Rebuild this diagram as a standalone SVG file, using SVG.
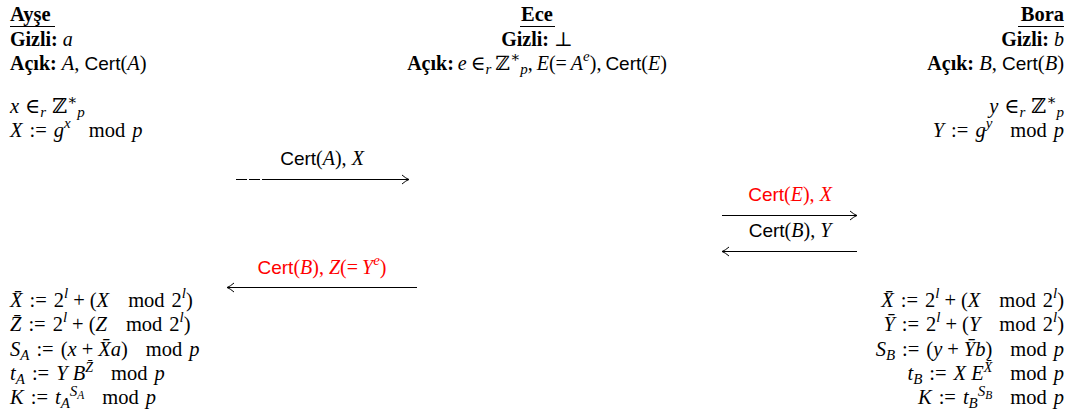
<svg xmlns="http://www.w3.org/2000/svg" width="1074" height="418" viewBox="0 0 1074 418">
<style>
text{font-family:"Liberation Serif","DejaVu Serif",serif;font-size:20.5px;fill:#000}
.b{font-weight:bold}
.i{font-style:italic}
.s{font-family:"Liberation Sans","DejaVu Sans",sans-serif;font-size:19px;font-style:normal}
.sc{font-size:15px}
.sb{font-size:14px}
.ss{font-size:11.5px}
.e{text-anchor:end}
.m{text-anchor:middle}
.n{font-size:20px}
.red{fill:#ff0000}
.red tspan{fill:#ff0000}
.ul{stroke:#000;stroke-width:1.2}
.ar{stroke:#000;stroke-width:1;fill:none}
</style>
<defs>
<marker id="ah" markerUnits="userSpaceOnUse" markerWidth="14" markerHeight="14" refX="11" refY="7" orient="auto">
<path d="M4,2.5 Q8,6 11,7 Q8,8 4,11.5" fill="none" stroke="#000" stroke-width="1"/>
</marker>
</defs>
<g id="ayse">
<text class="b" x="10" y="21">Ayşe</text>
<line class="ul" x1="10" y1="26.5" x2="55" y2="26.5"/>
<text class="n" x="10" y="46"><tspan class="b">Gizli:</tspan> <tspan class="i">a</tspan></text>
<text x="10" y="70"><tspan class="b n">Açık:</tspan> <tspan class="i">A</tspan>, <tspan class="s">Cert</tspan>(<tspan class="i">A</tspan>)</text>
<text x="10" y="113"><tspan class="i">x</tspan><tspan dx="6">∈</tspan><tspan class="sc i" dy="4">r</tspan><tspan dy="-4" dx="6">ℤ</tspan><tspan class="sc" dy="-8">∗</tspan><tspan class="sc i" dy="12">p</tspan></text>
<text x="10" y="137"><tspan class="i">X</tspan><tspan dx="7">:=</tspan><tspan class="i" dx="7">g</tspan><tspan class="sc i" dy="-9">x</tspan><tspan dy="9" dx="18">mod</tspan><tspan class="i" dx="7">p</tspan></text>
<text x="10" y="307"><tspan class="i">X̄</tspan><tspan dx="7">:=</tspan><tspan dx="7">2</tspan><tspan class="sc i" dy="-9">l</tspan><tspan dy="9" dx="5">+</tspan><tspan dx="5">(</tspan><tspan class="i">X</tspan><tspan dx="19">mod</tspan><tspan dx="7">2</tspan><tspan class="sc i" dy="-9">l</tspan><tspan dy="9">)</tspan></text>
<text x="10" y="331"><tspan class="i">Z̄</tspan><tspan dx="7">:=</tspan><tspan dx="7">2</tspan><tspan class="sc i" dy="-9">l</tspan><tspan dy="9" dx="5">+</tspan><tspan dx="5">(</tspan><tspan class="i">Z</tspan><tspan dx="19">mod</tspan><tspan dx="7">2</tspan><tspan class="sc i" dy="-9">l</tspan><tspan dy="9">)</tspan></text>
<text x="10" y="355.5"><tspan class="i">S</tspan><tspan class="sc i" dy="4">A</tspan><tspan dy="-4" dx="7">:=</tspan><tspan dx="7">(</tspan><tspan class="i">x</tspan><tspan dx="5">+</tspan><tspan class="i" dx="5">X̄a</tspan>)<tspan dx="18">mod</tspan><tspan class="i" dx="7">p</tspan></text>
<text x="10" y="379.5"><tspan class="i">t</tspan><tspan class="sc i" dy="4">A</tspan><tspan dy="-4" dx="7">:=</tspan><tspan class="i" dx="7">Y B</tspan><tspan class="sb i" dy="-8">Z̄</tspan><tspan dy="8" dx="18">mod</tspan><tspan class="i" dx="7">p</tspan></text>
<text x="10" y="403.5"><tspan class="i">K</tspan><tspan dx="7">:=</tspan><tspan class="i" dx="7">t</tspan><tspan class="sc i" dy="4">A</tspan><tspan class="sc i" dy="-12">S</tspan><tspan class="ss i" dy="3">A</tspan><tspan dy="5" dx="18">mod</tspan><tspan class="i" dx="7">p</tspan></text>
</g>
<g id="ece">
<text class="b m" x="537" y="21">Ece</text>
<line class="ul" x1="520" y1="26.5" x2="555" y2="26.5"/>
<text class="m n" x="537" y="46"><tspan class="b">Gizli:</tspan> ⊥</text>
<text class="m n" x="537" y="70"><tspan class="b">Açık:</tspan><tspan class="i" dx="4">e</tspan><tspan dx="4">∈</tspan><tspan class="sc i" dy="4">r</tspan><tspan dy="-4" dx="4">ℤ</tspan><tspan class="sc" dy="-8">∗</tspan><tspan class="sc i" dy="12">p</tspan><tspan dy="-4">,</tspan><tspan class="i" dx="4">E</tspan>(=<tspan class="i" dx="4">A</tspan><tspan class="sc i" dy="-9">e</tspan><tspan dy="9">),</tspan><tspan class="s" dx="4">Cert</tspan>(<tspan class="i">E</tspan>)</text>
</g>
<g id="bora">
<text class="b e" x="1064" y="21">Bora</text>
<line class="ul" x1="1018" y1="26.5" x2="1064" y2="26.5"/>
<text class="e n" x="1064" y="46"><tspan class="b">Gizli:</tspan> <tspan class="i">b</tspan></text>
<text class="e" x="1064" y="70"><tspan class="b n">Açık:</tspan> <tspan class="i">B</tspan>, <tspan class="s">Cert</tspan>(<tspan class="i">B</tspan>)</text>
<text class="e" x="1064" y="113"><tspan class="i">y</tspan><tspan dx="6">∈</tspan><tspan class="sc i" dy="4">r</tspan><tspan dy="-4" dx="6">ℤ</tspan><tspan class="sc" dy="-8">∗</tspan><tspan class="sc i" dy="12">p</tspan></text>
<text class="e" x="1064" y="137"><tspan class="i">Y</tspan><tspan dx="7">:=</tspan><tspan class="i" dx="7">g</tspan><tspan class="sc i" dy="-9">y</tspan><tspan dy="9" dx="18">mod</tspan><tspan class="i" dx="7">p</tspan></text>
<text class="e" x="1064" y="307"><tspan class="i">X̄</tspan><tspan dx="7">:=</tspan><tspan dx="7">2</tspan><tspan class="sc i" dy="-9">l</tspan><tspan dy="9" dx="5">+</tspan><tspan dx="5">(</tspan><tspan class="i">X</tspan><tspan dx="19">mod</tspan><tspan dx="7">2</tspan><tspan class="sc i" dy="-9">l</tspan><tspan dy="9">)</tspan></text>
<text class="e" x="1064" y="331"><tspan class="i">Ȳ</tspan><tspan dx="7">:=</tspan><tspan dx="7">2</tspan><tspan class="sc i" dy="-9">l</tspan><tspan dy="9" dx="5">+</tspan><tspan dx="5">(</tspan><tspan class="i">Y</tspan><tspan dx="19">mod</tspan><tspan dx="7">2</tspan><tspan class="sc i" dy="-9">l</tspan><tspan dy="9">)</tspan></text>
<text class="e" x="1064" y="355.5"><tspan class="i">S</tspan><tspan class="sc i" dy="4">B</tspan><tspan dy="-4" dx="7">:=</tspan><tspan dx="7">(</tspan><tspan class="i">y</tspan><tspan dx="5">+</tspan><tspan class="i" dx="5">Ȳb</tspan>)<tspan dx="18">mod</tspan><tspan class="i" dx="7">p</tspan></text>
<text class="e" x="1064" y="379.5"><tspan class="i">t</tspan><tspan class="sc i" dy="4">B</tspan><tspan dy="-4" dx="7">:=</tspan><tspan class="i" dx="7">X E</tspan><tspan class="sb i" dy="-8">X̄</tspan><tspan dy="8" dx="18">mod</tspan><tspan class="i" dx="7">p</tspan></text>
<text class="e" x="1064" y="403.5"><tspan class="i">K</tspan><tspan dx="7">:=</tspan><tspan class="i" dx="7">t</tspan><tspan class="sc i" dy="4">B</tspan><tspan class="sc i" dy="-12">S</tspan><tspan class="ss i" dy="3">B</tspan><tspan dy="5" dx="18">mod</tspan><tspan class="i" dx="7">p</tspan></text>
</g>
<g id="connectors">
<g id="m1">
<text class="m n" x="322" y="165"><tspan class="s">Cert</tspan>(<tspan class="i">A</tspan>), <tspan class="i">X</tspan></text>
<line class="ar" x1="236" y1="179.5" x2="247" y2="179.5"/>
<line class="ar" x1="249" y1="179.5" x2="260" y2="179.5"/>
<line class="ar" x1="262" y1="179.5" x2="409" y2="179.5" marker-end="url(#ah)"/>
</g>
<g id="m2">
<text class="m n red" x="790" y="201"><tspan class="s">Cert</tspan>(<tspan class="i">E</tspan>), <tspan class="i">X</tspan></text>
<line class="ar" x1="722" y1="215.5" x2="857" y2="215.5" marker-end="url(#ah)"/>
</g>
<g id="m3">
<text class="m n" x="790" y="237"><tspan class="s">Cert</tspan>(<tspan class="i">B</tspan>), <tspan class="i">Y</tspan></text>
<line class="ar" x1="857" y1="251.5" x2="722" y2="251.5" marker-end="url(#ah)"/>
</g>
<g id="m4">
<text class="m n red" x="322" y="274"><tspan class="s">Cert</tspan>(<tspan class="i">B</tspan>), <tspan class="i">Z</tspan>(=<tspan class="i" dx="4">Y</tspan><tspan class="sc i" dy="-9">e</tspan><tspan dy="9">)</tspan></text>
<line class="ar" x1="417" y1="287.5" x2="227" y2="287.5" marker-end="url(#ah)"/>
</g>
</g>
</svg>
